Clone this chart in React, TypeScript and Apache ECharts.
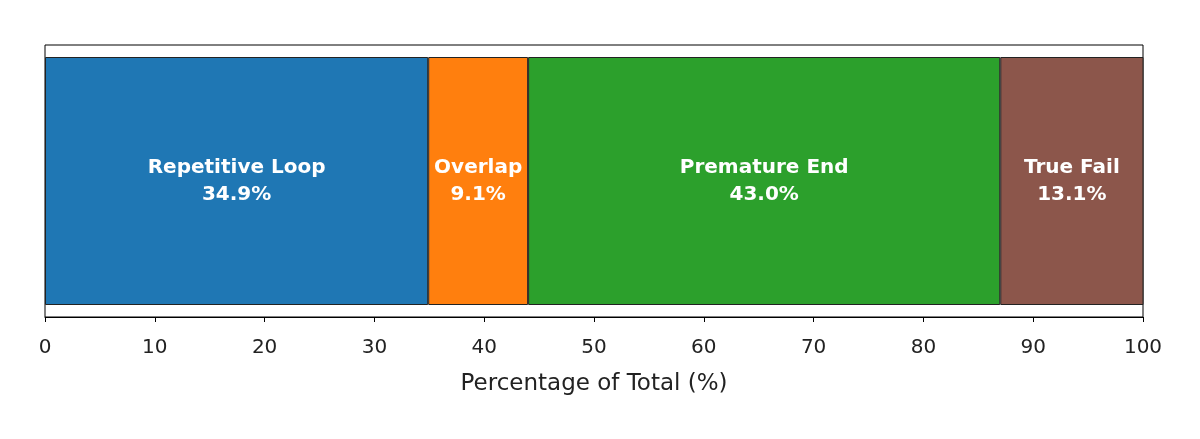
import * as echarts from "echarts";
import { useEffect, useRef } from "react";

const categories = ["Repetitive Loop", "Overlap", "Premature End", "True Fail"];
const shares = [34.9, 9.1, 43.0, 13.1];
const colors = ["#1f77b4", "#ff7f0e", "#2ca02c", "#8c564b"];
const ticks = [0, 10, 20, 30, 40, 50, 60, 70, 80, 90, 100];

export default function App() {
  const ref = useRef<HTMLDivElement>(null);

  useEffect(() => {
    if (!ref.current) return;
    const chart = echarts.init(ref.current, undefined, { renderer: "svg" });
    const font = "DejaVu Sans";

    chart.setOption({
      animation: false,
      textStyle: { fontFamily: font },
      grid: {
        left: 45,
        right: 57,
        top: 45,
        bottom: 122,
        show: true,
        borderColor: "#000",
        borderWidth: 1,
        backgroundColor: "transparent",
      },
      xAxis: {
        type: "value",
        min: ticks[0],
        max: ticks[ticks.length - 1],
        interval: 10,
        name: "Percentage of Total (%)",
        nameLocation: "middle",
        nameGap: 53,
        nameTextStyle: { fontSize: 23, color: "#222", fontFamily: font },
        axisLine: { show: true, lineStyle: { color: "#000" } },
        axisTick: { show: true, length: 5, lineStyle: { color: "#000" } },
        axisLabel: { fontSize: 20, color: "#222", margin: 19, fontFamily: font },
        splitLine: { show: false },
      },
      yAxis: {
        type: "category",
        data: ["All"],
        axisLine: { show: false },
        axisTick: { show: false },
        axisLabel: { show: false },
      },
      series: categories.map((name, i) => ({
        name,
        type: "bar",
        stack: "total",
        barWidth: 248,
        data: [shares[i]],
        itemStyle: { color: colors[i], borderColor: "#222", borderWidth: 1 },
        label: {
          show: true,
          position: "inside",
          offset: [0, -2],
          formatter: `${name}\n${shares[i].toFixed(1)}%`,
          color: "#fff",
          fontWeight: "bold",
          fontSize: 20,
          lineHeight: 27,
          fontFamily: font,
        },
      })),
    });

    return () => chart.dispose();
  }, []);

  return (
    <div
      ref={ref}
      style={{ position: "fixed", left: 0, top: 0, width: 1200, height: 439 }}
    />
  );
}
